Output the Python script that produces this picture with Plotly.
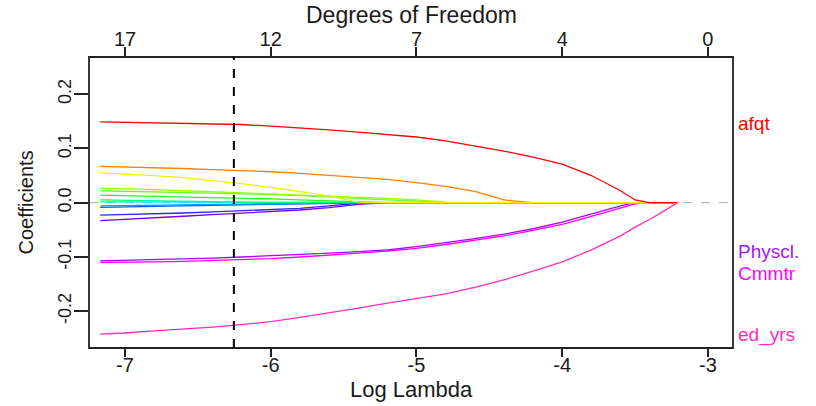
import plotly.graph_objects as go

# ---- data ----
log_lambda = [-7.17, -7.0, -6.8, -6.6, -6.4, -6.2, -6.0, -5.8, -5.6, -5.4, -5.2, -5.0,
              -4.8, -4.6, -4.4, -4.2, -4.0, -3.8, -3.6, -3.5, -3.4, -3.3, -3.21]

afqt    = [0.149, 0.148, 0.147, 0.146, 0.145, 0.144, 0.141, 0.138, 0.134, 0.130, 0.126, 0.121,
           0.114, 0.105, 0.095, 0.084, 0.071, 0.050, 0.022, 0.005, 0, 0, 0]
orange  = [0.067, 0.066, 0.065, 0.063, 0.061, 0.0595, 0.057, 0.054, 0.050, 0.047, 0.043, 0.037,
           0.030, 0.021, 0.005, 0, 0, 0, 0, 0, 0, 0, 0]
yellow  = [0.055, 0.053, 0.050, 0.046, 0.041, 0.035, 0.028, 0.021, 0.0125, 0.001, 0, 0,
           0, 0, 0, 0, 0, 0, 0, 0, 0, 0, 0]
ygreen  = [0.027, 0.026, 0.024, 0.022, 0.020, 0.0185, 0.017, 0.015, 0.013, 0.011, 0.008, 0.005,
           0.001, 0, 0, 0, 0, 0, 0, 0, 0, 0, 0]
lgreen  = [0.022, 0.021, 0.020, 0.019, 0.018, 0.017, 0.015, 0.013, 0.010, 0.008, 0.005, 0.003,
           0, 0, 0, 0, 0, 0, 0, 0, 0, 0, 0]
green   = [0.014, 0.013, 0.012, 0.011, 0.010, 0.009, 0.007, 0.005, 0.003, 0.001, 0, 0,
           0, 0, 0, 0, 0, 0, 0, 0, 0, 0, 0]
sgreen  = [0.005, 0.0045, 0.004, 0.003, 0.002, 0.001, 0, 0, 0, 0, 0, 0,
           0, 0, 0, 0, 0, 0, 0, 0, 0, 0, 0]
cyan    = [0.0015, 0.0013, 0.001, 0.0008, 0.0005, 0.0002, 0, 0, 0, 0, 0, 0,
           0, 0, 0, 0, 0, 0, 0, 0, 0, 0, 0]
azure   = [-0.006, -0.0055, -0.005, -0.0045, -0.004, -0.003, -0.002, -0.001, 0, 0, 0, 0,
           0, 0, 0, 0, 0, 0, 0, 0, 0, 0, 0]
blue    = [-0.0085, -0.008, -0.007, -0.006, -0.005, -0.004, -0.003, -0.002, -0.001, 0, 0, 0,
           0, 0, 0, 0, 0, 0, 0, 0, 0, 0, 0]
dblue   = [-0.023, -0.022, -0.021, -0.019, -0.017, -0.015, -0.013, -0.0105, -0.006, -0.001, 0, 0,
           0, 0, 0, 0, 0, 0, 0, 0, 0, 0, 0]
violet  = [-0.033, -0.031, -0.028, -0.025, -0.022, -0.019, -0.0165, -0.0135, -0.009, -0.003, 0, 0,
           0, 0, 0, 0, 0, 0, 0, 0, 0, 0, 0]
physcl  = [-0.107, -0.106, -0.105, -0.104, -0.102, -0.100, -0.098, -0.096, -0.093, -0.090, -0.087, -0.081,
           -0.074, -0.066, -0.058, -0.048, -0.036, -0.021, -0.006, 0, 0, 0, 0]
cmmtr   = [-0.110, -0.110, -0.109, -0.108, -0.1065, -0.105, -0.103, -0.100, -0.097, -0.093, -0.089, -0.084,
           -0.077, -0.069, -0.061, -0.051, -0.040, -0.025, -0.009, -0.002, 0, 0, 0]
ed_yrs  = [-0.242, -0.240, -0.236, -0.233, -0.229, -0.2245, -0.219, -0.211, -0.203, -0.194, -0.185, -0.176,
           -0.168, -0.156, -0.142, -0.126, -0.109, -0.087, -0.061, -0.045, -0.031, -0.015, 0]

x_ticks = [-7, -6, -5, -4, -3]
x_ticklabels = ["-7", "-6", "-5", "-4", "-3"]
df_ticklabels = ["17", "12", "7", "4", "0"]
y_ticks = [-0.2, -0.1, 0.0, 0.1, 0.2]
y_ticklabels = ["-0.2", "-0.1", "0.0", "0.1", "0.2"]
selected_log_lambda = -6.253

right_labels = ["afqt", "Physcl.", "Cmmtr", "ed_yrs"]
right_label_y = [0.146, -0.0895, -0.1295, -0.2437]
right_label_colors = ["#FF0000", "#A020F0", "#FF00FF", "#FF2EB8"]

# draw order (last drawn on top)
series = [
    (ed_yrs, "#FF2EB8"),
    (cmmtr, "#FF00FF"),
    (physcl, "#B000FF"),
    (violet, "#7A00FF"),
    (dblue, "#2828FF"),
    (blue, "#0060FF"),
    (azure, "#0099FF"),
    (cyan, "#00E5FF"),
    (sgreen, "#00FF80"),
    (green, "#22FF22"),
    (lgreen, "#66FF33"),
    (ygreen, "#99FF00"),
    (orange, "#FF7F00"),
    (yellow, "#F2F200"),
    (afqt, "#FF0000"),
]

FONT = "Liberation Sans, Arial, sans-serif"
TXT = "#1a1a1a"

fig = go.Figure()
for vals, col in series:
    fig.add_trace(go.Scatter(x=log_lambda, y=vals, mode="lines",
                             line=dict(color=col, width=1.3), showlegend=False,
                             hoverinfo="skip"))
# invisible trace to activate top axis
fig.add_trace(go.Scatter(x=[log_lambda[0]], y=[0], xaxis="x2", mode="markers",
                         marker=dict(opacity=0), showlegend=False, hoverinfo="skip"))

xr = [-7.247, -2.828]
yr = [-0.2676, 0.2683]

fig.update_layout(
    width=816, height=406,
    margin=dict(l=89, r=83, t=57, b=58),
    paper_bgcolor="white", plot_bgcolor="white",
    font=dict(family=FONT, color=TXT),
    xaxis=dict(range=xr, tickvals=x_ticks, ticktext=x_ticklabels, automargin=False,
               ticks="outside", ticklen=8, tickwidth=1.5, tickcolor="#222",
               showgrid=False, zeroline=False, showline=False, ticklabelstandoff=-9,
               tickfont=dict(size=20, family=FONT, color=TXT)),
    xaxis2=dict(range=xr, overlaying="x", side="top", tickvals=x_ticks, ticktext=df_ticklabels,
                automargin=False,
                ticks="outside", ticklen=9, tickwidth=1.5, tickcolor="#222",
                showgrid=False, zeroline=False, showline=False, ticklabelstandoff=-7,
                tickfont=dict(size=20, family=FONT, color=TXT)),
    yaxis=dict(range=yr, tickvals=y_ticks, ticktext=y_ticklabels, tickangle=-90, automargin=False,
               ticks="outside", ticklen=14, tickwidth=1.5, tickcolor="#222",
               showgrid=False, zeroline=False, showline=False, ticklabelstandoff=-4,
               tickfont=dict(size=18, family=FONT, color=TXT)),
)

# axis titles placed as annotations
fig.add_annotation(text="Degrees of Freedom", xref="paper", yref="paper", x=0.5, y=(348 - 15) / 291,
                   showarrow=False, xanchor="center", yanchor="middle",
                   font=dict(size=23, family=FONT, color=TXT))
fig.add_annotation(text="Log Lambda", xref="paper", yref="paper", x=0.5, y=(348 - 389) / 291,
                   showarrow=False, xanchor="center", yanchor="middle",
                   font=dict(size=22, family=FONT, color=TXT))
fig.add_annotation(text="Coefficients", xref="paper", yref="paper", x=(25 - 89) / 644, y=0.5,
                   textangle=-90, showarrow=False, xanchor="center", yanchor="middle",
                   font=dict(size=20, family=FONT, color=TXT))

# plot box
fig.add_shape(type="rect", xref="paper", yref="paper", x0=0, x1=1, y0=0, y1=1,
              line=dict(color="#222", width=1.8), layer="above")
# zero line
fig.add_shape(type="line", xref="paper", yref="y", x0=0, x1=1, y0=0, y1=0,
              line=dict(color="#BBBBBB", width=1.2, dash="dash"), layer="below")
# selected lambda
fig.add_shape(type="line", xref="x", yref="paper", x0=selected_log_lambda, x1=selected_log_lambda,
              y0=0, y1=1, line=dict(color="black", width=2, dash="dash"), layer="above")

for txt, yv, col in zip(right_labels, right_label_y, right_label_colors):
    fig.add_annotation(text=txt, xref="paper", yref="y", x=1.0, y=yv, xanchor="left", yanchor="middle",
                       xshift=3, showarrow=False, font=dict(size=19, family=FONT, color=col))

fig.write_html("out.html")
